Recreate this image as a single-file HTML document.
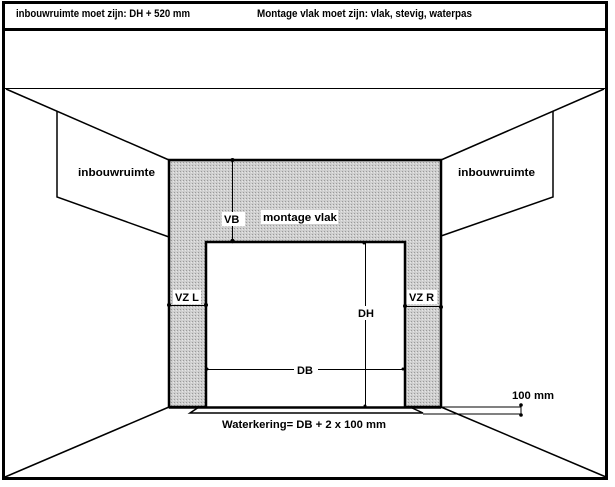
<!DOCTYPE html>
<html><head><style>
html,body{margin:0;padding:0;background:#fff;}
svg{display:block;}
text{font-family:"Liberation Sans",sans-serif;font-weight:bold;font-size:11px;fill:#000;}
</style></head><body>
<svg width="615" height="487" viewBox="0 0 615 487" xmlns="http://www.w3.org/2000/svg">
<defs>
<pattern id="dots" width="3" height="3" patternUnits="userSpaceOnUse">
<rect width="3" height="3" fill="#cfcfcf"/>
<rect x="0" y="0" width="1" height="1" fill="#9a9a9a"/>
<rect x="2" y="1" width="1" height="1" fill="#e6e6e6"/>
</pattern>
</defs>
<rect width="615" height="487" fill="#fff"/>
<rect x="3.5" y="2.5" width="603" height="476" fill="none" stroke="#000" stroke-width="3"/>
<line x1="3" y1="29.5" x2="607" y2="29.5" stroke="#000" stroke-width="3"/>
<text x="16" y="17" textLength="174" lengthAdjust="spacingAndGlyphs">inbouwruimte moet zijn: DH + 520 mm</text>
<text x="257" y="17" textLength="215" lengthAdjust="spacingAndGlyphs">Montage vlak moet zijn: vlak, stevig, waterpas</text>
<line x1="5" y1="88.5" x2="606" y2="88.5" stroke="#000" stroke-width="1"/>
<g stroke="#000" stroke-width="1.5" fill="none">
<line x1="6" y1="89" x2="169" y2="160"/>
<line x1="604" y1="89" x2="441" y2="160"/>
<line x1="169" y1="407" x2="5" y2="477"/>
<line x1="441" y1="407" x2="606" y2="477"/>
<polyline points="57,111 57,197 169,237"/>
<polyline points="553,111 553,197 441,236"/>
</g>
<text x="78" y="176" textLength="77" lengthAdjust="spacingAndGlyphs">inbouwruimte</text>
<text x="458" y="176" textLength="77" lengthAdjust="spacingAndGlyphs">inbouwruimte</text>
<path d="M169,160 H441 V407 H405 V242 H206 V407 H169 Z" fill="url(#dots)" stroke="#000" stroke-width="2.5"/>
<line x1="169" y1="407.5" x2="441" y2="407.5" stroke="#000" stroke-width="2.5"/>
<g stroke="#000" stroke-width="1.5" fill="none">
<polyline points="199,407 190,413 423,413 410,407"/>
<line x1="441" y1="407" x2="521" y2="407" stroke-width="1"/>
<line x1="423" y1="414" x2="521" y2="414" stroke-width="1"/>
<line x1="521" y1="405" x2="521" y2="416" stroke-width="1"/>
</g>
<circle cx="521" cy="405" r="1.8"/><circle cx="521" cy="415" r="1.8"/>
<text x="512" y="399" textLength="42" lengthAdjust="spacingAndGlyphs">100 mm</text>
<text x="222" y="428" textLength="164" lengthAdjust="spacingAndGlyphs">Waterkering= DB + 2 x 100 mm</text>
<g stroke="#000" stroke-width="1">
<line x1="232.5" y1="160" x2="232.5" y2="242"/>
<line x1="365.5" y1="242" x2="365.5" y2="407"/>
<line x1="206" y1="369.5" x2="405" y2="369.5"/>
<line x1="169" y1="305.5" x2="206" y2="305.5"/>
<line x1="405" y1="306.5" x2="441" y2="306.5"/>
</g>
<g fill="#000">
<circle cx="232.5" cy="160" r="2"/><circle cx="232.5" cy="241" r="2.2"/>
<circle cx="364" cy="243" r="1.5"/><circle cx="365" cy="406" r="1.5"/>
<circle cx="207" cy="369" r="1.5"/><circle cx="403" cy="369" r="1.5"/>
<circle cx="169" cy="305" r="2"/><circle cx="206" cy="305" r="2"/>
<circle cx="405" cy="306" r="2"/><circle cx="441" cy="307" r="2"/>
</g>
<rect x="222" y="212" width="23" height="14" fill="#fff"/>
<text x="224" y="223">VB</text>
<rect x="261" y="210" width="77" height="14" fill="#fff"/>
<text x="263" y="221" textLength="74" lengthAdjust="spacingAndGlyphs">montage vlak</text>
<rect x="173" y="290" width="28" height="14" fill="#fff"/>
<text x="175" y="301">VZ L</text>
<rect x="407" y="290" width="30" height="14" fill="#fff"/>
<text x="409" y="301">VZ R</text>
<rect x="355" y="306" width="20" height="14" fill="#fff"/>
<text x="358" y="317">DH</text>
<rect x="294" y="363" width="24" height="13" fill="#fff"/>
<text x="297" y="374">DB</text>
</svg>
</body></html>
